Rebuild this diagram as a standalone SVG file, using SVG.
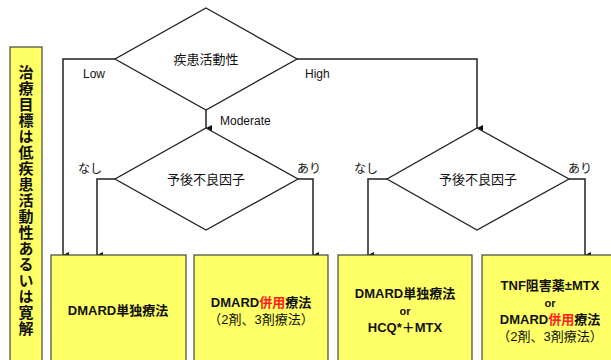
<svg xmlns="http://www.w3.org/2000/svg" width="611" height="360" viewBox="0 0 611 360">
<defs>
<marker id="ah" markerWidth="8" markerHeight="8" refX="4" refY="7" orient="auto" markerUnits="userSpaceOnUse">
<path d="M1,1 L4,7 L7,1 Z" fill="#111"/>
</marker>
<style>
.box{fill:#FFFF66;stroke:#444;stroke-width:1.2}
.dia{fill:#fff;stroke:#222;stroke-width:1.3}
.ln{fill:none;stroke:#222;stroke-width:1.5}
.t{font-family:"Liberation Sans","Noto Sans CJK JP",sans-serif;font-size:13px;fill:#111;text-anchor:middle}
.b{font-weight:bold}
.lbl{font-family:"Liberation Sans","Noto Sans CJK JP",sans-serif;font-size:12px;fill:#111}
.red{fill:#ff2020}
.v{font-family:"Noto Sans CJK JP",sans-serif;font-size:15px;font-weight:bold;fill:#111;writing-mode:vertical-rl;letter-spacing:1px}
</style>
</defs>
<rect width="611" height="360" fill="#fff"/>

<g id="connectors">
<polyline class="ln" points="115,59 63,59 63,255" marker-end="url(#ah)"/>
<polyline class="ln" points="297,59 477,59 477,128" marker-end="url(#ah)"/>
<line class="ln" x1="206" y1="110" x2="206" y2="128" marker-end="url(#ah)"/>
<polyline class="ln" points="115,179 97,179 97,255" marker-end="url(#ah)"/>
<polyline class="ln" points="298,179 313,179 313,255" marker-end="url(#ah)"/>
<polyline class="ln" points="387,179 368,179 368,255" marker-end="url(#ah)"/>
<polyline class="ln" points="569,179 585,179 585,255" marker-end="url(#ah)"/>
<text class="lbl" x="83" y="78">Low</text>
<text class="lbl" x="305" y="78">High</text>
<text class="lbl" x="220" y="125">Moderate</text>
<text class="lbl" x="78" y="173">なし</text>
<text class="lbl" x="297" y="173">あり</text>
<text class="lbl" x="354" y="173">なし</text>
<text class="lbl" x="568" y="173">あり</text>
</g>

<g id="goal">
<rect class="box" x="10" y="47" width="32" height="320"/>
<text class="v" x="26" y="65">治療目標は低疾患活動性あるいは寛解</text>
</g>

<g id="activity">
<polygon class="dia" points="206,8 297,59 206,110 115,59"/>
<text class="t" x="206" y="64">疾患活動性</text>
</g>

<g id="prognosis-left">
<polygon class="dia" points="206,128 298,179 206,230 115,179"/>
<text class="t" x="206" y="184">予後不良因子</text>
</g>

<g id="prognosis-right">
<polygon class="dia" points="477,128 569,179 477,230 387,179"/>
<text class="t" x="478" y="184">予後不良因子</text>
</g>

<g id="box1">
<rect class="box" x="51" y="255" width="135" height="112"/>
<text class="t b" x="118" y="315">DMARD単独療法</text>
</g>

<g id="box2">
<rect class="box" x="194" y="255" width="134" height="112"/>
<text class="t b" x="261" y="307">DMARD<tspan class="red">併用</tspan>療法</text>
<text class="t" x="261" y="324">（2剤、3剤療法）</text>
</g>

<g id="box3">
<rect class="box" x="338" y="255" width="134" height="112"/>
<text class="t b" x="405" y="298">DMARD単独療法</text>
<text class="t b" x="405" y="315" style="font-size:11px">or</text>
<text class="t b" x="405" y="332">HCQ*＋MTX</text>
</g>

<g id="box4">
<rect class="box" x="482" y="255" width="136" height="112"/>
<text class="t b" x="550" y="290">TNF阻害薬±MTX</text>
<text class="t b" x="550" y="307" style="font-size:11px">or</text>
<text class="t b" x="550" y="324">DMARD<tspan class="red">併用</tspan>療法</text>
<text class="t" x="550" y="341">（2剤、3剤療法）</text>
</g>
</svg>
